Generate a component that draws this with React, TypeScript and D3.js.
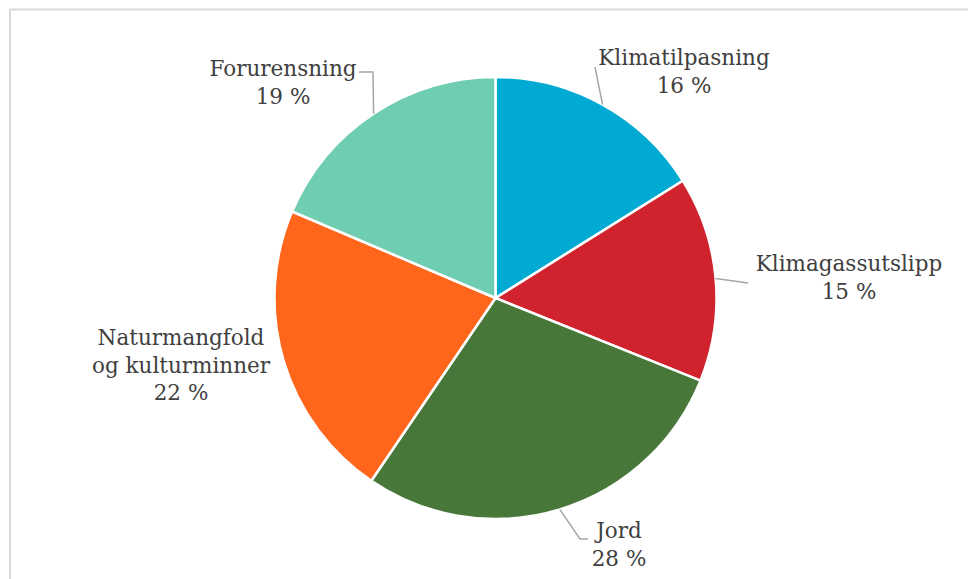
import React from "react";
import * as d3 from "d3";

const categories = ["Klimatilpasning", "Klimagassutslipp", "Jord", "Naturmangfold og kulturminner", "Forurensning"];
const values = [16.1, 15.0, 28.4, 21.9, 18.6];
const colors = ["#00AAD3", "#D1232E", "#48773A", "#FF661B", "#6FCDB2"];

const W = 968, H = 579;
const cx = 495.5, cy = 298, R = 221;

const labelLines = [
  ["Klimatilpasning"],
  ["Klimagassutslipp"],
  ["Jord"],
  ["Naturmangfold", "og kulturminner"],
  ["Forurensning"],
];
const labelPos: [number, number][] = [
  [684, 65],
  [849, 271],
  [619, 538],
  [181, 345],
  [283, 76],
];
const leaderEnds: ([number, number][] | null)[] = [
  [[595, 67]],
  [[748, 283]],
  [[580, 539], [588, 539]],
  null,
  [[373, 72], [359, 72]],
];

export default function App() {
  const pie = d3.pie<number>().sort(null).value((d) => d);
  const arcs = pie(values);
  const arc = d3.arc<d3.PieArcDatum<number>>().innerRadius(0).outerRadius(R);
  const lineGen = d3.line();
  return (
    <svg width={W} height={H} style={{ position: "absolute", left: 0, top: 0, background: "#fff" }}>
      <rect x={10} y={9.5} width={W + 20} height={H + 20} fill="none" stroke="#d9d9d9" strokeWidth={2} />
      <g transform={`translate(${cx},${cy})`}>
        {arcs.map((a, i) => (
          <path key={i} d={arc(a) || ""} fill={colors[i]} stroke="#fff" strokeWidth={2.5} />
        ))}
      </g>
      {arcs.map((a, i) => {
        const ends = leaderEnds[i];
        if (!ends) return null;
        const mid = (a.startAngle + a.endAngle) / 2;
        const p: [number, number] = [cx + R * Math.sin(mid), cy - R * Math.cos(mid)];
        return (
          <path key={"l" + i} d={lineGen([p, ...ends]) || ""} fill="none" stroke="#a6a6a6" strokeWidth={1.5} />
        );
      })}
      {labelLines.map((lines, i) => {
        const all = [...lines, `${Math.round(values[i])} %`];
        return (
          <text
            key={"t" + i}
            x={labelPos[i][0]}
            y={labelPos[i][1]}
            textAnchor="middle"
            fontFamily="'DejaVu Serif', serif"
            fontSize={21.5}
            fill="#404040"
          >
            {all.map((ln, j) => (
              <tspan key={j} x={labelPos[i][0]} dy={j === 0 ? 0 : 27.5}>
                {ln}
              </tspan>
            ))}
          </text>
        );
      })}
      <text style={{ display: "none" }}>{categories.join(",")}</text>
    </svg>
  );
}
